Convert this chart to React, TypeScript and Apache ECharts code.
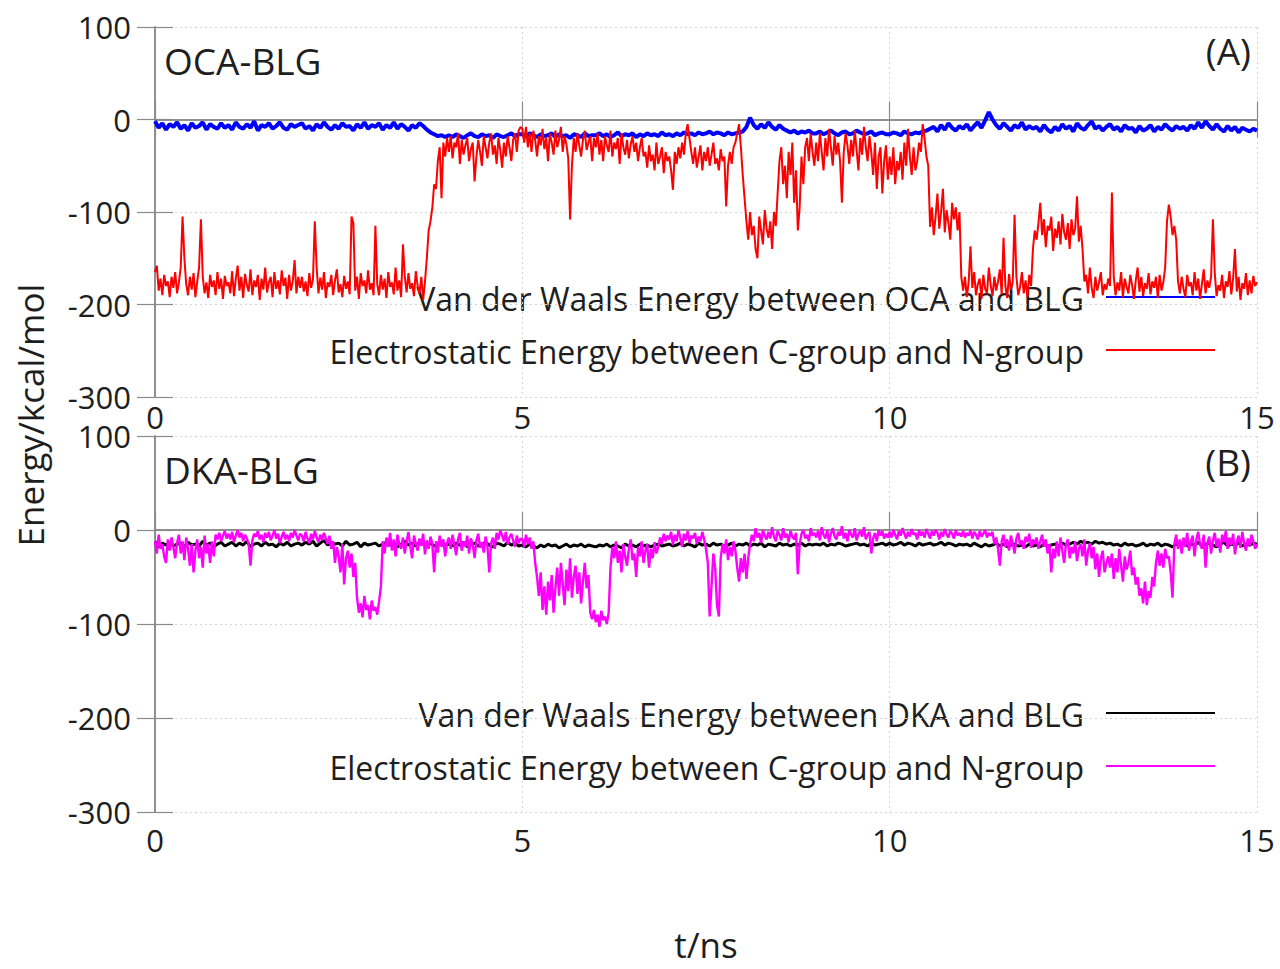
import React, { useEffect, useRef } from "react";
import * as echarts from "echarts";

// time axis ticks
const xTicks = [0, 5, 10, 15];
const yTicks = [-300, -200, -100, 0, 100];
const FINE_STEP = 0.025; // ns per sample (electrostatic series)
const COARSE_STEP = 0.05; // ns per sample (van der Waals series)

// Panel A: Van der Waals energy between OCA and BLG (blue), sampled every 0.05 ns
const vdwOCA = [
  -2,-9,-4,-11,-5,-8,-3,-10,-6,-12,-4,-9,-7,-3,-11,-5,-8,-10,-4,-9,
  -6,-11,-3,-8,-10,-5,-9,-2,-12,-6,-8,-4,-10,-7,-3,-9,-11,-5,-8,-6,
  -4,-10,-7,-12,-5,-9,-3,-8,-11,-6,-10,-4,-8,-7,-12,-5,-9,-3,-10,-6,
  -8,-4,-11,-6,-9,-3,-10,-5,-8,-12,-6,-9,-4,-7,-11,-14,-16,-18,-17,-19,
  -17,-19,-16,-18,-20,-17,-15,-18,-19,-16,-18,-17,-20,-16,-18,-19,-17,-15,-18,-16,
  -16,-18,-15,-17,-19,-16,-18,-17,-15,-19,-16,-18,-17,-20,-16,-17,-19,-15,-18,-17,
  -17,-15,-18,-16,-19,-17,-14,-18,-16,-17,-15,-19,-16,-18,-15,-17,-16,-18,-14,-17,
  -16,-18,-15,-17,-14,-16,-15,-17,-14,-16,-15,-13,-16,-14,-15,-17,-14,-16,-15,-14,
  -13,-8,2,-6,-10,-5,-9,-3,-8,-11,-6,-10,-12,-14,-12,-15,-13,-14,-12,-15,
  -15,-13,-16,-14,-12,-15,-17,-14,-13,-16,-15,-12,-14,-16,-15,-13,-17,-15,-14,-16,
  -16,-14,-15,-17,-13,-15,-16,-14,-15,-13,-12,-10,-8,-13,-6,-11,-4,-9,-12,-7,
  -10,-5,-12,-7,-3,-9,-1,8,0,-6,-10,-4,-8,-12,-6,-9,-3,-11,-7,-10,
  -8,-13,-6,-11,-14,-8,-12,-5,-10,-7,-13,-4,-9,-11,-6,-2,-10,-7,-12,-8,
  -5,-11,-8,-13,-6,-10,-9,-14,-7,-12,-10,-6,-13,-8,-11,-5,-9,-12,-7,-10,
  -8,-12,-6,-10,-3,-9,-2,-7,-11,-5,-10,-13,-7,-12,-8,-14,-9,-11,-13,-10,-12,
];

// Panel A: electrostatic energy between C-group and N-group (red), sampled every 0.025 ns
const elecOCA = [
  -165,-158,-185,-172,-190,-168,-180,-175,-192,-170,-182,-165,-188,-176,-160,-105,-150,-178,-190,-170,-184,-166,-192,-175,-160,-108,-170,-188,-176,-193,-168,-181,-174,-190,-165,-183,-172,-194,-169,-180,
  -176,-188,-164,-191,-172,-158,-185,-170,-193,-167,-179,-186,-162,-190,-174,-181,-168,-195,-172,-184,-160,-187,-176,-170,-192,-165,-183,-174,-189,-163,-180,-171,-194,-168,-185,-175,-152,-188,-170,-182,
  -170,-186,-175,-191,-166,-182,-173,-110,-160,-188,-171,-184,-165,-193,-176,-181,-168,-190,-174,-162,-187,-178,-192,-169,-183,-175,-189,-105,-112,-185,-170,-194,-166,-180,-174,-188,-163,-184,-177,-190,
  -115,-178,-190,-168,-184,-172,-193,-165,-181,-176,-189,-160,-185,-174,-192,-135,-170,-187,-166,-183,-177,-191,-164,-180,-188,-170,-195,-175,-150,-120,-110,-95,-70,-75,-45,-30,-85,-25,-40,-20,
  -35,-18,-42,-25,-30,-15,-48,-22,-38,-28,-20,-45,-32,-25,-67,-40,-22,-35,-50,-18,-30,-42,-25,-15,-38,-28,-48,-20,-33,-52,-25,-40,-18,-30,-45,-22,-15,-35,-12,-8,
  -10,-25,-8,-30,-15,-35,-12,-22,-40,-18,-28,-10,-32,-20,-45,-15,-25,-38,-12,-30,-22,-8,-35,-18,-27,-42,-108,-50,-20,-35,-15,-28,-40,-22,-12,-33,-25,-18,-45,-20,
  -30,-15,-38,-22,-45,-18,-28,-35,-12,-40,-25,-32,-20,-48,-15,-30,-38,-22,-42,-27,-18,-35,-25,-45,-30,-20,-40,-35,-52,-28,-45,-38,-55,-25,-48,-40,-30,-58,-35,-45,
  -40,-55,-76,-35,-48,-30,-42,-25,-38,-15,-5,-20,-35,-48,-30,-52,-40,-28,-55,-35,-45,-30,-50,-38,-25,-48,-42,-55,-32,-45,-40,-94,-50,-35,-48,-30,-25,-15,-5,-30,
  -60,-85,-110,-130,-100,-125,-115,-140,-150,-105,-120,-135,-98,-118,-128,-110,-140,-100,-115,-80,-45,-30,-70,-50,-85,-35,-60,-25,-90,-55,-120,-95,-40,-70,-30,-20,-45,-15,-35,-50,
  -25,-45,-15,-35,-55,-20,-40,-10,-30,-50,-18,-38,-25,-45,-90,-35,-15,-28,-48,-22,-40,-12,-33,-55,-20,-38,-8,-30,-45,-18,-35,-60,-25,-75,-40,-30,-80,-45,-28,-65,
  -40,-60,-30,-70,-45,-55,-35,-65,-25,-50,-10,-40,-60,-30,-55,-45,-25,-35,-5,-20,-40,-50,-116,-95,-125,-105,-80,-118,-100,-75,-122,-98,-112,-130,-90,-108,-95,-120,-100,-170,
  -185,-170,-192,-176,-137,-182,-165,-190,-178,-172,-194,-168,-183,-188,-160,-179,-191,-170,-185,-175,-162,-189,-128,-180,-193,-167,-184,-176,-103,-170,-190,-181,-165,-188,-174,-192,-168,-180,-140,-120,
  -130,-112,-90,-125,-108,-138,-115,-120,-105,-142,-118,-128,-110,-135,-102,-122,-130,-112,-140,-108,-125,-118,-83,-132,-115,-140,-175,-168,-188,-160,-182,-193,-170,-185,-176,-165,-190,-178,-184,-172,
  -180,-79,-170,-190,-176,-185,-165,-192,-172,-181,-188,-168,-179,-194,-174,-160,-186,-170,-191,-177,-183,-166,-189,-175,-182,-170,-193,-168,-185,-176,-160,-110,-92,-105,-125,-115,-130,-175,-188,-170,
  -183,-192,-168,-180,-176,-190,-165,-185,-172,-194,-178,-162,-188,-174,-182,-170,-108,-166,-191,-179,-185,-168,-193,-175,-181,-164,-189,-172,-140,-186,-170,-195,-177,-183,-166,-190,-174,-188,-169,-180,-176,
];

// Panel B: Van der Waals energy between DKA and BLG (black), sampled every 0.05 ns
const vdwDKA = [
  -12,-18,-14,-16,-13,-17,-15,-14,-18,-13,-16,-15,-17,-12,-16,-14,-18,-15,-13,-17,
  -15,-13,-17,-14,-16,-12,-18,-15,-14,-17,-13,-16,-15,-18,-14,-16,-13,-17,-15,-14,
  -16,-13,-15,-12,-17,-14,-11,-16,-13,-15,-14,-17,-12,-16,-15,-13,-18,-14,-16,-15,
  -14,-17,-15,-13,-16,-14,-18,-15,-12,-16,-14,-17,-13,-15,-16,-14,-17,-15,-13,-16,
  -15,-17,-14,-16,-13,-18,-15,-14,-17,-15,-13,-16,-18,-14,-15,-17,-13,-16,-14,-17,
  -16,-18,-15,-17,-19,-16,-18,-15,-17,-16,-19,-17,-15,-18,-16,-17,-15,-18,-16,-17,
  -18,-16,-17,-15,-18,-16,-17,-19,-15,-17,-16,-18,-15,-17,-16,-18,-16,-15,-17,-16,
  -15,-17,-16,-14,-17,-15,-16,-18,-14,-16,-15,-17,-14,-16,-15,-17,-16,-14,-17,-15,
  -16,-14,-17,-15,-16,-14,-18,-15,-16,-17,-14,-16,-15,-17,-15,-16,-14,-17,-15,-16,
  -15,-16,-14,-17,-15,-16,-14,-15,-17,-16,-15,-14,-16,-15,-17,-14,-16,-15,-14,-16,
  -14,-16,-15,-13,-16,-14,-15,-17,-14,-16,-15,-14,-16,-15,-13,-16,-14,-15,-17,-15,
  -16,-15,-17,-14,-16,-18,-15,-17,-16,-14,-17,-15,-18,-16,-15,-17,-16,-18,-15,-17,
  -16,-18,-15,-17,-16,-15,-17,-14,-16,-15,-13,-15,-12,-14,-13,-15,-12,-14,-13,-15,
  -14,-16,-15,-17,-14,-16,-15,-17,-16,-14,-17,-15,-16,-14,-17,-15,-16,-18,-15,-16,
  -14,-17,-15,-16,-13,-17,-15,-14,-16,-18,-15,-13,-17,-15,-16,-14,-17,-15,-16,-14,-15,
];

// Panel B: electrostatic energy between C-group and N-group (magenta), sampled every 0.025 ns
const elecDKA = [
  -12,-25,-5,-20,-15,-28,-35,-10,-22,-8,-18,-30,-14,-5,-25,-12,-32,-8,-20,-38,-15,-45,-22,-10,-30,-18,-40,-6,-25,-15,-35,-12,-28,-5,-10,-3,-12,-6,-1,-9,
  -4,-10,-2,-13,-6,0,-8,-3,-12,-5,-9,-15,-38,-11,-4,-7,-1,-10,-5,-13,-3,-8,-2,-11,-6,0,-9,-4,-14,-7,-2,-10,-5,-12,-3,-8,0,-6,-11,-4,
  -6,-12,-2,-9,-14,-4,-10,-1,-8,-13,-5,-11,-3,-9,-15,-6,-20,-12,-35,-18,-28,-45,-15,-58,-30,-22,-40,-25,-50,-35,-72,-88,-78,-93,-70,-85,-80,-95,-75,-86,
  -82,-90,-76,-60,-12,-25,-8,-18,-3,-22,-10,-28,-5,-15,-20,-8,-25,-12,-2,-18,-30,-6,-14,-22,-9,-17,-4,-26,-11,-20,-7,-15,-45,-12,-24,-6,-18,-10,-28,-14,
  -8,-20,-5,-16,-27,-10,-3,-22,-12,-18,-6,-25,-9,-15,-30,-11,-4,-19,-13,-24,-7,-17,-45,-14,-8,-20,-3,-10,0,-6,-12,-2,-15,-8,-4,-11,-18,-6,-14,-9,
  -10,-18,-5,-15,-8,-20,-12,-35,-50,-70,-45,-85,-60,-90,-55,-75,-48,-88,-62,-40,-70,-35,-58,-80,-42,-65,-30,-72,-50,-38,-68,-45,-78,-55,-35,-62,-48,-88,-95,-85,
  -98,-90,-103,-86,-96,-92,-100,-88,-40,-18,-30,-12,-35,-22,-45,-15,-28,-38,-20,-10,-32,-25,-50,-18,-28,-12,-35,-22,-15,-40,-20,-30,-13,-25,-18,-8,-15,-4,-12,-6,
  -10,-2,-16,-5,-12,0,-8,-18,-4,-11,-1,-14,-6,-9,-3,-15,-7,-12,-2,-10,-20,-35,-92,-60,-25,-40,-80,-92,-30,-15,-25,-10,-32,-18,-28,-12,-22,-40,-55,-30,
  -45,-25,-52,-30,-15,-5,-12,2,-8,-3,-14,0,-6,-10,-2,-9,3,-7,-12,-1,-5,-11,2,-8,-4,-13,-1,-7,-10,-3,-47,-15,-4,0,-9,-5,-12,2,-6,-3,
  -8,-1,-11,3,-5,-9,0,-13,-4,2,-7,-10,-2,-6,4,-9,-3,-12,0,-5,-8,2,-11,-4,-1,-7,3,-10,-5,-2,-25,-9,-3,-12,0,-6,-1,-9,-4,-8,
  -2,-8,0,-5,-10,-1,-6,2,-4,-9,-2,-7,1,-5,-3,-10,0,-6,-2,-8,1,-4,-9,-1,-6,0,-3,-10,-2,-7,1,-5,-8,-1,-4,-9,0,-6,-3,-7,
  -1,-8,-3,-6,0,-9,-2,-5,-10,-1,-7,-4,0,-8,-3,-6,-2,-15,-8,-20,-38,-12,-5,-18,-10,-22,-6,-14,-25,-9,-3,-16,-11,-20,-7,-13,-4,-19,-10,-15,
  -8,-20,-12,-5,-18,-10,-25,-15,-45,-20,-30,-12,-28,-8,-22,-35,-15,-10,-30,-18,-25,-12,-33,-20,-15,-28,-10,-38,-22,-14,-30,-18,-42,-25,-50,-30,-22,-45,-35,-28,
  -40,-25,-52,-30,-45,-20,-38,-55,-28,-42,-35,-22,-48,-40,-58,-50,-70,-62,-78,-55,-80,-65,-72,-50,-60,-35,-22,-38,-25,-40,-20,-30,-28,-45,-72,-15,-5,-20,-10,-25,
  -8,-18,-3,-22,-12,-6,-28,-10,-2,-15,-20,-5,-40,-14,-7,-25,-11,-3,-18,-9,-24,-5,-13,-1,-20,-8,-16,-4,-26,-12,-6,-19,-2,-14,-22,-9,-17,-5,-12,-20,-15,
];

const panelTitles = ["OCA-BLG", "DKA-BLG"];
const panelTags = ["(A)", "(B)"];
const legendA = ["Van der Waals Energy between OCA and BLG", "Electrostatic Energy between C-group and N-group"];
const legendB = ["Van der Waals Energy between DKA and BLG", "Electrostatic Energy between C-group and N-group"];
const colors = { vdwA: "#0000ff", elecA: "#ff0000", vdwB: "#000000", elecB: "#ff00ff" };

const toPairs = (vals: number[], step: number) => vals.map((v, i) => [Number((i * step).toFixed(3)), v]);

const FONT = "Open Sans";
const TEXT = "#1e1e1e";
const FRAME = "#8a8a8a";

function buildOption() {
  const grids = [
    { left: 155, right: 23, top: 27, height: 370 },
    { left: 155, right: 23, top: 436, height: 376 },
  ];
  const xAxes: any[] = [];
  const yAxes: any[] = [];
  grids.forEach((_, gi) => {
    xAxes.push({
      type: "value", gridIndex: gi, position: "bottom", min: xTicks[0], max: xTicks[xTicks.length - 1], interval: 5,
      axisLine: { show: true, lineStyle: { color: FRAME, width: 1.5 } },
      axisTick: { show: true, inside: true, length: 18, lineStyle: { color: FRAME, width: 1.2 } },
      axisLabel: { color: TEXT, fontSize: 31, fontFamily: FONT, margin: gi === 0 ? 4 : 12 },
      splitLine: { show: true, lineStyle: { color: "#d4d4d4", type: [2, 3], width: 1 } },
    });
    xAxes.push({
      type: "value", gridIndex: gi, position: "top", min: 0, max: 15, interval: 5,
      axisLine: { show: true, lineStyle: { color: FRAME, width: 1.5 } },
      axisTick: { show: true, inside: true, length: 18, lineStyle: { color: FRAME, width: 1.2 } },
      axisLabel: { show: false }, splitLine: { show: false },
    });
    yAxes.push({
      type: "value", gridIndex: gi, position: "left", min: yTicks[0], max: yTicks[yTicks.length - 1], interval: 100,
      axisLine: { show: true, lineStyle: { color: FRAME, width: 1.5 } },
      axisTick: { show: true, inside: true, length: 18, lineStyle: { color: FRAME, width: 1.2 } },
      axisLabel: { color: TEXT, fontSize: 31, fontFamily: FONT, margin: 24 },
      splitLine: { show: true, lineStyle: { color: "#d4d4d4", type: [2, 3], width: 1 } },
    });
    yAxes.push({
      type: "value", gridIndex: gi, position: "right", min: -300, max: 100, interval: 100,
      axisLine: { show: true, lineStyle: { color: FRAME, width: 1.5 } },
      axisTick: { show: true, inside: true, length: 18, lineStyle: { color: FRAME, width: 1.2 } },
      axisLabel: { show: false }, splitLine: { show: false },
    });
  });

  const lineSeries = (name: string, data: number[], step: number, color: string, width: number, axis: number, z: number) => ({
    type: "line", name, xAxisIndex: axis * 2, yAxisIndex: axis * 2, data: toPairs(data, step),
    showSymbol: false, symbol: "none", z, lineStyle: { color, width }, itemStyle: { color }, silent: true,
  });

  const legendFont = `32px "${FONT}"`;
  const legendBlock = (labels: string[], cols: string[], y1: number, y2: number) => [
    { type: "text", z: 0, style: { text: labels[0], x: 1084, y: y1, align: "right", verticalAlign: "middle", fill: TEXT, font: legendFont } },
    { type: "line", z: 0, shape: { x1: 1106, y1: y1 - 1, x2: 1215, y2: y1 - 1 }, style: { stroke: cols[0], lineWidth: 2 } },
    { type: "text", z: 0, style: { text: labels[1], x: 1084, y: y2, align: "right", verticalAlign: "middle", fill: TEXT, font: legendFont } },
    { type: "line", z: 0, shape: { x1: 1106, y1: y2 - 1, x2: 1215, y2: y2 - 1 }, style: { stroke: cols[1], lineWidth: 2 } },
  ];

  return {
    animation: false,
    backgroundColor: "#ffffff",
    grid: grids,
    xAxis: xAxes,
    yAxis: yAxes,
    series: [
      lineSeries(legendA[0], vdwOCA, COARSE_STEP, colors.vdwA, 4, 0, 3),
      lineSeries(legendA[1], elecOCA, FINE_STEP, colors.elecA, 2, 0, 4),
      lineSeries(legendB[0], vdwDKA, COARSE_STEP, colors.vdwB, 3, 1, 3),
      lineSeries(legendB[1], elecDKA, FINE_STEP, colors.elecB, 2.4, 1, 4),
    ],
    graphic: [
      { type: "text", z: 0, style: { text: panelTitles[0], x: 164, y: 60, verticalAlign: "middle", fill: TEXT, font: `37px "${FONT}"` } },
      { type: "text", z: 0, style: { text: panelTags[0], x: 1251, y: 50, align: "right", verticalAlign: "middle", fill: TEXT, font: `37px "${FONT}"` } },
      { type: "text", z: 0, style: { text: panelTitles[1], x: 164, y: 469, verticalAlign: "middle", fill: TEXT, font: `37px "${FONT}"` } },
      { type: "text", z: 0, style: { text: panelTags[1], x: 1251, y: 461, align: "right", verticalAlign: "middle", fill: TEXT, font: `37px "${FONT}"` } },
      ...legendBlock(legendA, [colors.vdwA, colors.elecA], 298, 351),
      ...legendBlock(legendB, [colors.vdwB, colors.elecB], 714, 767),
      { type: "text", z: 0, x: 30, y: 415, rotation: Math.PI / 2, style: { text: "Energy/kcal/mol", x: 0, y: 0, align: "center", verticalAlign: "middle", fill: TEXT, font: `35px "${FONT}"` } },
      { type: "text", z: 0, style: { text: "t/ns", x: 706, y: 944, align: "center", verticalAlign: "middle", fill: TEXT, font: `35px "${FONT}"` } },
    ],
  };
}

export default function App() {
  const ref = useRef<HTMLDivElement>(null);
  useEffect(() => {
    if (!ref.current) return;
    const chart = echarts.init(ref.current, null, { renderer: "svg" });
    chart.setOption(buildOption() as any);
    return () => chart.dispose();
  }, []);
  return <div ref={ref} style={{ position: "absolute", left: 0, top: 0, width: 1280, height: 969 }} />;
}
